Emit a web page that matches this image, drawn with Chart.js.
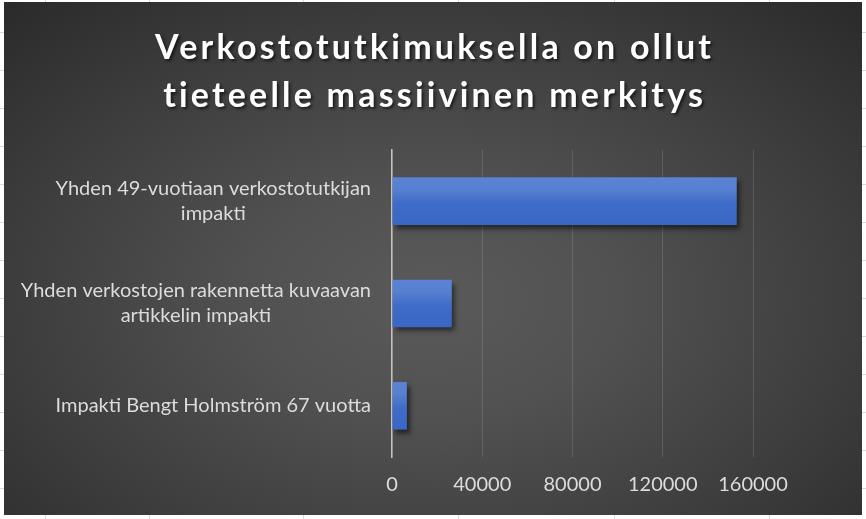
<!DOCTYPE html>
<html lang="fi">
<head>
<meta charset="UTF-8" />
<title>Verkostotutkimus</title>
<script src="https://cdn.jsdelivr.net/npm/chart.js@4.4.1/dist/chart.umd.min.js"></script>
<style>
  html, body { margin: 0; padding: 0; }
  body {
    width: 866px; height: 519px; overflow: hidden; position: relative;
    background-color: #fff;
    background-image:
      linear-gradient(90deg, transparent 45px, #d9d9d9 45px, #d9d9d9 46px, transparent 46px),
      linear-gradient(90deg, transparent 149px, #d9d9d9 149px, #d9d9d9 150px, transparent 150px),
      linear-gradient(90deg, transparent 303px, #d9d9d9 303px, #d9d9d9 304px, transparent 304px),
      linear-gradient(90deg, transparent 458px, #d9d9d9 458px, #d9d9d9 459px, transparent 459px),
      linear-gradient(90deg, transparent 614px, #d9d9d9 614px, #d9d9d9 615px, transparent 615px),
      linear-gradient(90deg, transparent 769px, #d9d9d9 769px, #d9d9d9 770px, transparent 770px),
      repeating-linear-gradient(180deg, transparent 0, transparent 32px, #d9d9d9 32px, #d9d9d9 33px, transparent 33px, transparent 38px);
  }
  .panel {
    position: absolute; left: 4px; top: 2px; width: 858px; height: 513px;
    background: radial-gradient(ellipse 72% 78% at 50% 58%, #5a5a5a 0%, #515151 30%, #3d3d3d 68%, #2b2b2b 100%);
  }
</style>
</head>
<body>
<div class="panel"><canvas id="chart" width="858" height="513"></canvas></div>
<script>
const titleLines = ['Verkostotutkimuksella on ollut', 'tieteelle massiivinen merkitys'];
const categories = [
  ['Yhden 49-vuotiaan verkostotutkijan', 'impakti'],
  ['Yhden verkostojen rakennetta kuvaavan', 'artikkelin impakti'],
  ['Impakti Bengt Holmström 67 vuotta']
];
const values = [152800, 26500, 6600];
const xTicks = [0, 40000, 80000, 120000, 160000];

const textColor = '#dcdcdc';
const fontFamily = 'Lato, "Open Sans", sans-serif';
const labelFont = '20px ' + fontFamily;

// spaced-out bold title with a drop shadow, centred on the canvas
const wideTitle = {
  id: 'wideTitle',
  afterDraw(chart) {
    const ctx = chart.ctx;
    ctx.save();
    ctx.font = 'bold 34px ' + fontFamily;
    ctx.letterSpacing = '3.2px';
    ctx.textAlign = 'left';
    ctx.textBaseline = 'alphabetic';
    ctx.fillStyle = '#ffffff';
    ctx.shadowColor = 'rgba(0,0,0,0.6)';
    ctx.shadowOffsetX = 2;
    ctx.shadowOffsetY = 2;
    ctx.shadowBlur = 3;
    titleLines.forEach((line, i) => {
      const w = ctx.measureText(line).width - 3.2;
      ctx.fillText(line, chart.width / 2 - w / 2, 57 + i * 48);
    });
    ctx.restore();
  }
};

// category labels: block right aligned, lines centred inside the block
const catLabels = {
  id: 'catLabels',
  afterDraw(chart) {
    const { ctx, scales: { y } } = chart;
    ctx.save();
    ctx.font = labelFont;
    ctx.fillStyle = textColor;
    ctx.textAlign = 'center';
    ctx.textBaseline = 'middle';
    const lineH = 25;
    categories.forEach((lines, i) => {
      const cy = y.getPixelForValue(i);
      const w = Math.max(...lines.map((l) => ctx.measureText(l).width));
      const cx = y.right - 21 - w / 2;
      lines.forEach((l, j) => ctx.fillText(l, cx, cy + (j - (lines.length - 1) / 2) * lineH));
    });
    ctx.restore();
  }
};

const barShadow = {
  id: 'barShadow',
  beforeDatasetsDraw(chart) {
    const ctx = chart.ctx;
    ctx.save();
    ctx.shadowColor = 'rgba(0,0,0,0.55)';
    ctx.shadowOffsetX = 3;
    ctx.shadowOffsetY = 4;
    ctx.shadowBlur = 5;
  },
  afterDatasetsDraw(chart) {
    chart.ctx.restore();
  }
};

new Chart(document.getElementById('chart'), {
  type: 'bar',
  data: {
    labels: categories,
    datasets: [{
      data: values,
      backgroundColor: (c) => {
        const y = c.chart.scales.y;
        if (!y || c.type !== 'data') return '#4472c4';
        const cy = y.getPixelForValue(c.dataIndex);
        if (!isFinite(cy)) return '#4472c4';
        const g = c.chart.ctx.createLinearGradient(0, cy - 24, 0, cy + 24);
        g.addColorStop(0, '#5b83d3');
        g.addColorStop(0.25, '#5880d0');
        g.addColorStop(0.55, '#3f6cc8');
        g.addColorStop(1, '#3a66c4');
        return g;
      },
      borderWidth: 0,
      barPercentage: 0.62,
      categoryPercentage: 0.75
    }]
  },
  options: {
    indexAxis: 'y',
    responsive: false,
    animation: false,
    layout: { padding: { left: 0, right: 109, top: 148, bottom: 2 } },
    plugins: {
      legend: { display: false },
      tooltip: { enabled: false },
      title: { display: false }
    },
    scales: {
      x: {
        min: 0,
        max: 160000,
        afterBuildTicks: (s) => { s.ticks = xTicks.map((v) => ({ value: v })); },
        ticks: {
          color: textColor,
          font: { family: fontFamily, size: 20 },
          padding: 16,
          maxRotation: 0,
          callback: (v) => String(v)
        },
        grid: { color: 'rgba(255,255,255,0.13)', drawTicks: false },
        border: { display: false }
      },
      y: {
        ticks: { display: false },
        grid: { display: false, drawTicks: false },
        border: { display: true, color: '#c9c2ba', width: 1.5 },
        afterFit: (s) => { s.width = 388; }
      }
    }
  },
  plugins: [catLabels, barShadow, wideTitle]
});
</script>
</body>
</html>
